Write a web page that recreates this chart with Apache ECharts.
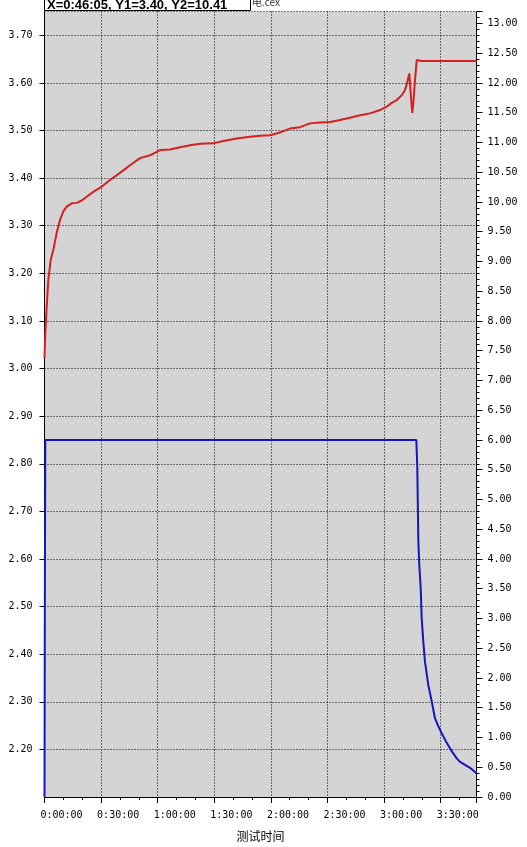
<!DOCTYPE html>
<html lang="zh">
<head>
    <meta charset="utf-8">
    <title>测试曲线</title>
    <script src="https://cdn.jsdelivr.net/npm/echarts@6/dist/echarts.min.js"></script>
    <style>
        html, body { margin: 0; padding: 0; background: #ffffff; }
        #chart { width: 527px; height: 847px; }
    </style>
</head>
<body>
<div id="chart"></div>
<script>
    // 时间(秒) / 电压(左轴)
    var voltTime = [0, 25, 70, 121, 197, 280, 388, 493, 598, 706, 865, 1024, 1183, 1342, 1552, 1819,
        2083, 2401, 2719, 3037, 3356, 3674, 3992, 4310, 4628, 4946, 5369, 5687, 6113, 6536, 6854,
        7172, 7490, 7808, 8126, 8444, 8763, 9081, 9399, 9717, 10035, 10353, 10671, 10884, 11043,
        11202, 11361, 11466, 11539, 11603, 11647, 11679, 11698, 11730, 11784, 11838, 11889, 11997, 13740];
    var voltValue = [3.022, 3.075, 3.130, 3.186, 3.228, 3.249, 3.285, 3.312, 3.330, 3.340, 3.347, 3.348,
        3.353, 3.361, 3.371, 3.382, 3.396, 3.411, 3.427, 3.442, 3.448, 3.459, 3.460, 3.465, 3.469,
        3.472, 3.473, 3.478, 3.483, 3.487, 3.489, 3.490, 3.496, 3.504, 3.507, 3.515, 3.517, 3.518,
        3.522, 3.527, 3.532, 3.536, 3.543, 3.550, 3.558, 3.564, 3.574, 3.585, 3.602, 3.620, 3.616,
        3.550, 3.537, 3.557, 3.606, 3.648, 3.649, 3.646, 3.646];

    // 时间(秒) / 电流(右轴)
    var currTime = [0, 10, 25, 11826, 11857, 11889, 11921, 11966, 11997, 12048, 12102, 12207, 12315,
        12420, 12525, 12633, 12793, 12952, 13111, 13216, 13375, 13534, 13693, 13740];
    var currValue = [0, 3.0, 6.0, 6.0, 5.54, 4.31, 3.89, 3.50, 3.00, 2.61, 2.27, 1.88, 1.61,
        1.32, 1.19, 1.07, 0.91, 0.77, 0.65, 0.59, 0.54, 0.49, 0.42, 0.40];

    var headerText = 'X=0:46:05, Y1=3.40, Y2=10.41';
    var fileText = '电.cex';
    var xName = '测试时间';

    function pairs(xs, ys) {
        var out = [];
        for (var i = 0; i < xs.length; i++) {
            out.push([xs[i], ys[i]]);
        }
        return out;
    }

    function fmtTime(v) {
        var h = Math.floor(v / 3600);
        var m = Math.floor((v % 3600) / 60);
        var s = Math.round(v % 60);
        return h + ':' + (m < 10 ? '0' : '') + m + ':' + (s < 10 ? '0' : '') + s;
    }

    var monoFont = 'DejaVu Sans Mono';

    var chart = echarts.init(document.getElementById('chart'));
    var option = {
        animation: false,
        backgroundColor: '#ffffff',
        grid: {
            left: 44.5,
            right: 50.5,
            top: 11.5,
            bottom: 48,
            show: true,
            backgroundColor: '#d4d4d4',
            borderWidth: 0
        },
        graphic: [
            {
                type: 'rect',
                shape: {x: 44.5, y: -10.5, width: 206, height: 21},
                style: {fill: '#ffffff', stroke: '#000000', lineWidth: 1},
                z: 100
            },
            {
                type: 'text',
                x: 47,
                y: 12,
                style: {
                    text: headerText,
                    fill: '#000000',
                    font: 'bold 13px "Liberation Sans", Arial',
                    verticalAlign: 'bottom'
                },
                z: 101
            },
            {
                type: 'text',
                x: 252,
                y: 7,
                style: {
                    text: fileText,
                    fill: '#333333',
                    font: '10px "Noto Sans CJK SC", sans-serif',
                    verticalAlign: 'bottom'
                },
                z: 101
            }
        ],
        xAxis: {
            type: 'value',
            min: 0,
            max: 13740,
            interval: 1800,
            name: xName,
            nameLocation: 'middle',
            nameGap: 33,
            nameTextStyle: {
                color: '#000000',
                fontSize: 12,
                fontFamily: 'Noto Sans CJK SC'
            },
            axisLine: {show: true, lineStyle: {color: '#000000', width: 1}},
            axisTick: {show: true, length: 6, lineStyle: {color: '#000000'}},
            minorTick: {show: true, splitNumber: 3, length: 3, lineStyle: {color: '#000000'}},
            axisLabel: {
                color: '#000000',
                fontSize: 10,
                fontFamily: monoFont,
                margin: 13,
                align: 'left',
                padding: [0, 0, 0, -4],
                showMaxLabel: false,
                formatter: fmtTime
            },
            splitLine: {show: true, lineStyle: {color: '#000000', type: [1, 2], width: 1}}
        },
        yAxis: [
            {
                type: 'value',
                min: 2.1,
                max: 3.75,
                interval: 0.1,
                position: 'left',
                axisLine: {show: true, lineStyle: {color: '#000000', width: 1}},
                axisTick: {show: true, length: 5, lineStyle: {color: '#000000'}},
                axisLabel: {
                    color: '#000000',
                    fontSize: 10,
                    fontFamily: monoFont,
                    margin: 12,
                    showMinLabel: false,
                    showMaxLabel: false,
                    formatter: function (v) { return v.toFixed(2); }
                },
                splitLine: {show: true, lineStyle: {color: '#000000', type: [1, 2], width: 1}}
            },
            {
                type: 'value',
                min: 0,
                max: 13.2,
                interval: 0.5,
                position: 'right',
                axisLine: {show: true, lineStyle: {color: '#000000', width: 1}},
                axisTick: {show: true, length: 6, lineStyle: {color: '#000000'}},
                minorTick: {show: true, splitNumber: 5, length: 3, lineStyle: {color: '#000000'}},
                axisLabel: {
                    color: '#000000',
                    fontSize: 10,
                    fontFamily: monoFont,
                    margin: 11,
                    showMaxLabel: false,
                    formatter: function (v) { return v.toFixed(2); }
                },
                splitLine: {show: false}
            }
        ],
        series: [
            {
                name: 'Y1',
                type: 'line',
                yAxisIndex: 0,
                data: pairs(voltTime, voltValue),
                showSymbol: false,
                lineStyle: {color: '#d81e1e', width: 2},
                itemStyle: {color: '#d81e1e'},
                z: 3
            },
            {
                name: 'Y2',
                type: 'line',
                yAxisIndex: 1,
                data: pairs(currTime, currValue),
                showSymbol: false,
                lineStyle: {color: '#1414c0', width: 2},
                itemStyle: {color: '#1414c0'},
                z: 3
            }
        ]
    };
    chart.setOption(option);
</script>
</body>
</html>
